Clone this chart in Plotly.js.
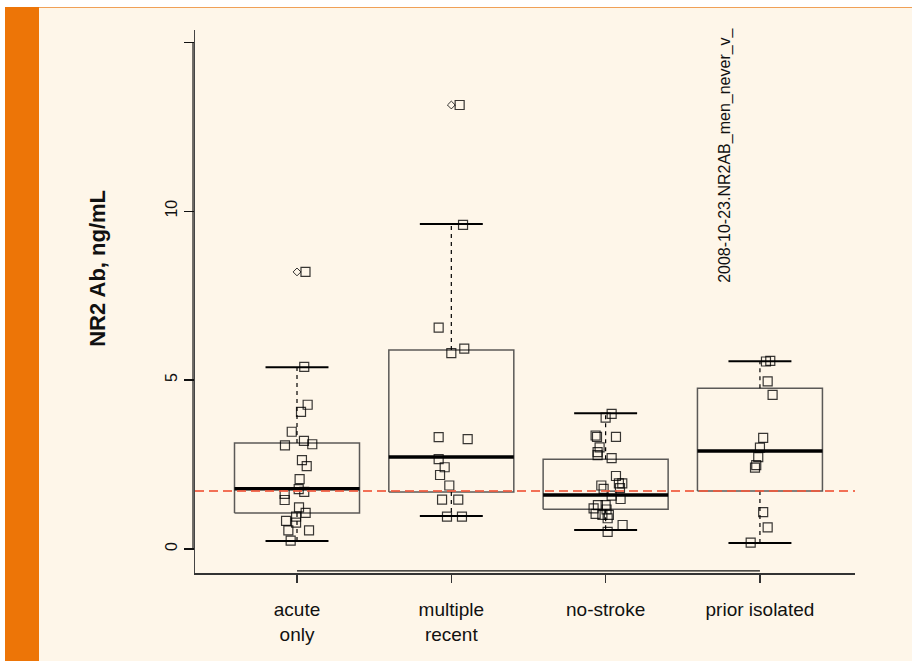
<!DOCTYPE html>
<html>
<head>
<meta charset="utf-8">
<script src="https://cdn.plot.ly/plotly-3.0.1.min.js"></script>
<style>
  html, body { margin: 0; padding: 0; background: #ffffff; }
  #wrap { position: relative; width: 912px; height: 661px; overflow: hidden; }
  #chart { position: absolute; left: 0; top: 0; width: 912px; height: 661px; }
  .deco { position: absolute; pointer-events: none; }
</style>
</head>
<body>
<div id="wrap">
  <div id="chart"></div>
  <div class="deco" style="left:0;top:0;width:912px;height:7px;background:#ffffff;"></div>
  <div class="deco" style="left:0;top:0;width:5px;height:661px;background:#ffffff;"></div>
  <div class="deco" style="left:5px;top:7px;width:34px;height:654px;background:#ED7507;"></div>
  <div class="deco" style="left:39px;top:7px;width:873px;height:1px;background:#F0A057;"></div>
</div>
<script>
// ---- data ----
var categories = ["acute<br>only", "multiple<br>recent", "no-stroke", "prior isolated"];
var positions = [1, 2, 3, 4];

// box statistics: lower whisker, Q1, median, Q3, upper whisker
var lowerWhisker = [0.24, 0.98, 0.56, 0.18];
var q1Values     = [1.065, 1.69, 1.18, 1.72];
var medianValues = [1.78, 2.72, 1.60, 2.90];
var q3Values     = [3.14, 5.89, 2.66, 4.76];
var upperWhisker = [5.38, 9.62, 4.02, 5.56];

// outliers drawn by the boxplot
var outlierGroup = [1, 2];
var outlierValues = [8.20, 13.14];

// jittered observations (jitter offset and value per group)
var acuteValues  = [5.39, 4.27, 4.06, 3.47, 3.20, 3.07, 3.10, 2.63, 2.45, 2.07, 1.77, 1.69, 1.63, 1.45, 1.23, 1.07, 0.96, 0.83, 0.78, 0.55, 0.55, 0.25, 8.20];
var acuteJitter  = [0.047, 0.069, 0.026, -0.034, 0.045, -0.078, 0.099, 0.032, 0.063, 0.017, 0.011, 0.047, -0.080, -0.080, 0.013, 0.056, -0.006, -0.071, -0.006, -0.056, 0.078, -0.041, 0.055];

var multipleValues = [13.14, 9.59, 6.55, 5.93, 5.80, 3.31, 3.25, 2.66, 2.42, 2.19, 1.88, 1.46, 1.46, 0.96, 0.96];
var multipleJitter = [0.054, 0.076, -0.082, 0.084, 0.0, -0.082, 0.106, -0.082, -0.043, -0.073, -0.013, -0.060, 0.045, -0.028, 0.069];

var noStrokeValues = [4.00, 3.89, 3.36, 3.32, 3.32, 3.01, 2.87, 2.78, 2.69, 2.16, 1.88, 1.94, 1.94, 1.78, 1.80, 1.58, 1.48, 1.30, 1.20, 1.30, 1.17, 1.04, 1.01, 1.01, 0.91, 0.71, 0.51];
var noStrokeJitter = [0.039, 0.0, -0.065, -0.056, 0.067, -0.039, -0.052, -0.052, 0.039, 0.067, -0.028, 0.086, 0.108, -0.013, 0.093, 0.039, 0.097, -0.050, -0.078, 0.0, 0.006, -0.065, -0.021, 0.021, 0.013, 0.110, 0.013];

var priorValues = [5.57, 5.55, 4.96, 4.56, 3.29, 3.00, 2.72, 2.48, 2.41, 1.09, 0.64, 0.19];
var priorJitter = [0.067, 0.039, 0.050, 0.082, 0.021, 0.0, -0.011, -0.024, -0.032, 0.021, 0.050, -0.060];

var referenceLine = 1.72;
var yTickVals = [0, 5, 10, 15];
var yTickText = ["0", "5", "10", ""];
var annotationText = "2008-10-23.NR2AB_men_never_v_";
var yTitle = "NR2 Ab, ng/mL";

// ---- build traces ----
var FONT = "Liberation Sans, Arial, Helvetica, sans-serif";
var boxHalf = 0.405, capHalf = 0.204;
var traces = [];

// boxes
var bx = [], by = [];
positions.forEach(function (p, i) {
  bx.push(p - boxHalf, p + boxHalf, p + boxHalf, p - boxHalf, p - boxHalf, null);
  by.push(q1Values[i], q1Values[i], q3Values[i], q3Values[i], q1Values[i], null);
});
traces.push({x: bx, y: by, mode: "lines", line: {color: "rgba(50,50,50,0.8)", width: 1.5}, hoverinfo: "skip", showlegend: false});

// whiskers (dashed)
var wx = [], wy = [];
positions.forEach(function (p, i) {
  wx.push(p, p, null, p, p, null);
  wy.push(q3Values[i], upperWhisker[i], null, q1Values[i], lowerWhisker[i], null);
});
traces.push({x: wx, y: wy, mode: "lines", line: {color: "#000000", width: 1.2, dash: "4px,4px"}, hoverinfo: "skip", showlegend: false});

// caps
var cx = [], cy = [];
positions.forEach(function (p, i) {
  cx.push(p - capHalf, p + capHalf, null, p - capHalf, p + capHalf, null);
  cy.push(upperWhisker[i], upperWhisker[i], null, lowerWhisker[i], lowerWhisker[i], null);
});
traces.push({x: cx, y: cy, mode: "lines", line: {color: "#000000", width: 2}, hoverinfo: "skip", showlegend: false});

// medians
var mx = [], my = [];
positions.forEach(function (p, i) {
  mx.push(p - boxHalf, p + boxHalf, null);
  my.push(medianValues[i], medianValues[i], null);
});
traces.push({x: mx, y: my, mode: "lines", line: {color: "#000000", width: 3.5}, hoverinfo: "skip", showlegend: false});

// boxplot outliers
traces.push({
  x: outlierGroup.map(function (g) { return positions[g - 1]; }),
  y: outlierValues, mode: "markers",
  marker: {symbol: "diamond-open", size: 6, color: "rgba(0,0,0,0.8)", line: {width: 1}},
  hoverinfo: "skip", showlegend: false
});

// jittered points
var groups = [
  [acuteValues, acuteJitter],
  [multipleValues, multipleJitter],
  [noStrokeValues, noStrokeJitter],
  [priorValues, priorJitter]
];
var px = [], py = [];
groups.forEach(function (g, i) {
  g[0].forEach(function (v, k) { px.push(positions[i] + g[1][k]); py.push(v); });
});
traces.push({
  x: px, y: py, mode: "markers",
  marker: {symbol: "square-open", size: 9, color: "rgba(0,0,0,0.78)", line: {width: 1.2}},
  hoverinfo: "skip", showlegend: false
});

var layout = {
  width: 912, height: 661,
  paper_bgcolor: "#FEF6E9", plot_bgcolor: "#FEF6E9",
  margin: {l: 195, r: 57, t: 30, b: 88},
  font: {family: FONT, color: "#000000"},
  showlegend: false,
  xaxis: {
    range: [0.339, 4.616], tickmode: "array", tickvals: positions, ticktext: categories,
    showgrid: false, zeroline: false, showline: true, linecolor: "#333333", linewidth: 1.5,
    ticks: "outside", ticklen: 8, tickcolor: "#333333", tickwidth: 1.2,
    tickfont: {family: FONT, size: 19, color: "#111111"}, ticklabelstandoff: 11
  },
  yaxis: {
    range: [-0.71, 15.36], tickmode: "array", tickvals: yTickVals, ticktext: yTickText,
    showgrid: false, zeroline: false, showline: true, linecolor: "#444444", linewidth: 1.5,
    ticks: "outside", ticklen: 10, tickcolor: "#111111", tickwidth: 1.2, tickangle: -90,
    tickfont: {family: FONT, size: 16, color: "#111111"}
  },
  shapes: [
    {type: "line", xref: "paper", yref: "y", x0: 0, x1: 1, y0: referenceLine, y1: referenceLine,
     line: {color: "rgba(240,88,60,0.85)", width: 2, dash: "9px,5px"}},
    // R-style axis lines spanning only the tick range
    {type: "line", xref: "paper", yref: "y", x0: -0.003, x1: -0.003, y0: yTickVals[0], y1: yTickVals[yTickVals.length - 1],
     line: {color: "#111111", width: 1.2}},
    {type: "line", xref: "x", yref: "paper", x0: positions[0], x1: positions[positions.length - 1], y0: 0.004, y1: 0.004,
     line: {color: "#111111", width: 1.2}}
  ],
  annotations: [
    {text: annotationText, xref: "paper", yref: "paper", x: 0.803, y: 0.770, xanchor: "center", yanchor: "middle",
     textangle: -90, showarrow: false, font: {family: FONT, size: 16, color: "#111111"}},
    {text: "<b>" + yTitle + "</b>", xref: "paper", yref: "paper", x: -0.147, y: 0.562, xanchor: "center", yanchor: "middle",
     textangle: -90, showarrow: false, font: {family: FONT, size: 22, color: "#111111"}}
  ]
};

Plotly.newPlot("chart", traces, layout, {staticPlot: true, displayModeBar: false});
</script>
</body>
</html>
